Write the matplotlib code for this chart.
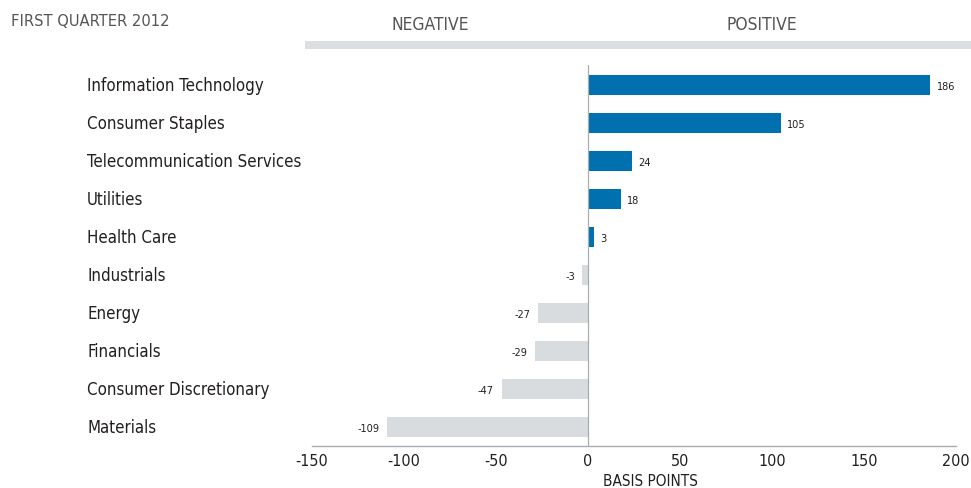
import matplotlib
matplotlib.use("Agg")
import matplotlib.pyplot as plt
from matplotlib import font_manager as fm
from matplotlib.transforms import blended_transform_factory

categories = ["Information Technology", "Consumer Staples", "Telecommunication Services",
              "Utilities", "Health Care", "Industrials", "Energy", "Financials",
              "Consumer Discretionary", "Materials"]
values = [186, 105, 24, 18, 3, -3, -27, -29, -47, -109]
xticks = [-150, -100, -50, 0, 50, 100, 150, 200]

# look for a condensed/narrow regular font
cond = None
for f in fm.fontManager.ttflist:
    n = (f.name + " " + f.fname).lower()
    if ("condensed" in n or "narrow" in n or f.stretch in ("condensed", "semi-condensed")) \
            and f.weight in (400, "normal", "regular") and f.style == "normal" \
            and "bold" not in f.fname.lower() and "oblique" not in f.fname.lower() \
            and "italic" not in f.fname.lower():
        cond = f
        break

if cond is None:
    plt.rcParams["font.family"] = ["Open Sans", "DejaVu Sans"]


def fpx(size):
    if cond is not None:
        return dict(fontproperties=fm.FontProperties(fname=cond.fname, size=size))
    return dict(fontsize=size * 0.9)


BLUE = "#0070AE"
GRAY = "#D9DCDF"
TXT = "#231F20"
HDR = "#555555"

fig = plt.figure(figsize=(9.71, 4.89), dpi=100)
W, H = 971, 489
ax = fig.add_axes([312 / W, 1 - 447 / H, (956 - 312) / W, (447 - 66) / H])

ypos = list(range(len(categories)))
colors = [BLUE if v > 0 else GRAY for v in values]
ax.barh(ypos, values, height=0.52, color=colors, zorder=2)
ax.set_ylim(9.5, -0.525)
ax.set_xlim(-150, 200)
ax.axvline(0, color="#A8ADB2", lw=0.9, zorder=3)

for s in ["top", "right", "left"]:
    ax.spines[s].set_visible(False)
ax.spines["bottom"].set_color("#A8ADB2")
ax.spines["bottom"].set_linewidth(1.0)
ax.set_yticks([])
ax.set_xticks(xticks)
ax.set_xticklabels([str(t) for t in xticks], color=TXT, **fpx(11.5))
ax.tick_params(axis="x", length=0, pad=5)

fig.text(650 / W, 1 - 482 / H, "BASIS POINTS", ha="center", va="center", color=TXT, **fpx(11))

for y, v in zip(ypos, values):
    if v > 0:
        ax.annotate(str(v), (v, y), xytext=(4.5, -1), textcoords="offset points",
                    ha="left", va="center", color=TXT, **fpx(7.8))
    else:
        ax.annotate(str(v), (v, y), xytext=(-5.5, -1), textcoords="offset points",
                    ha="right", va="center", color=TXT, **fpx(7.8))

tr = blended_transform_factory(fig.transFigure, ax.transData)
for y, c in zip(ypos, categories):
    fig.text(87 / W, y, c, transform=tr, ha="left", va="center", color=TXT, **fpx(12.1))

fig.text(11 / W, 1 - 21.5 / H, "FIRST QUARTER 2012", ha="left", va="center", color=HDR, **fpx(11.8))
fig.text(430 / W, 1 - 25 / H, "NEGATIVE", ha="center", va="center", color=HDR, **fpx(12.5))
fig.text(762 / W, 1 - 25 / H, "POSITIVE", ha="center", va="center", color=HDR, **fpx(12.5))
fig.add_artist(plt.Rectangle((305 / W, 1 - 50 / H), (971 - 305) / W, 8 / H,
                             transform=fig.transFigure, color="#DCDFE2", lw=0))

fig.savefig("out.png", dpi=100)
